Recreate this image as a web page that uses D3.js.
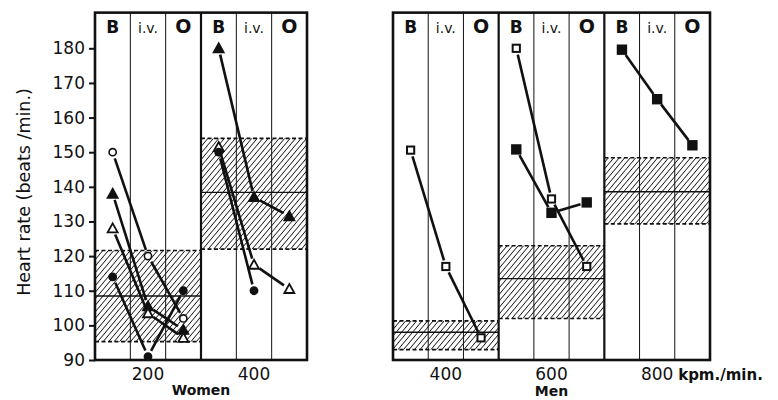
<!DOCTYPE html>
<html>
<head>
<meta charset="utf-8">
<script src="https://cdn.jsdelivr.net/npm/d3@7"></script>
<style>
  body { margin: 0; background: #fff; }
  text { font-family: "DejaVu Sans", sans-serif; fill: #111; }
</style>
</head>
<body>
<svg id="chart" width="778" height="400"></svg>
<script>
// workloads (kpm/min) of each group
var womenLoads = [200, 400];
var menLoads = [400, 600, 800];
var columnNames = ["B", "i.v.", "O"];
var yTicks = [90, 100, 110, 120, 130, 140, 150, 160, 170, 180];

// shaded bands: mean, lower, upper (heart rate at the same load without drug)
var womenBands = [[108.5, 95.3, 121.6], [138.4, 122, 154]];
var menBands = [[98, 93, 101.3], [113.5, 102, 123], [138.6, 129.3, 148.4]];

// individual subjects: load, marker, values for B, i.v., O (null = missing)
var womenSeries = [
  [200, "openCircle", [150, 120, 102]],
  [200, "filledTriangle", [138, 105.5, 98.7]],
  [200, "openTriangle", [128, 103.5, 96.4]],
  [200, "filledCircle", [114, 91, 110]],
  [400, "filledTriangle", [180, 137, 131.5]],
  [400, "openTriangle", [151.5, 117.5, 110.5]],
  [400, "filledCircle", [150, 110, null]]
];
var menSeries = [
  [400, "openSquare", [150.6, 117, 96.4]],
  [600, "openSquare", [180, 136.5, 117]],
  [600, "filledSquare", [150.8, 132.5, 135.5]],
  [800, "filledSquare", [179.6, 165.3, 152]]
];

var svg = d3.select("#chart");

var y = d3.scaleLinear().domain([90, 180]).range([360, 48.3]);
var yTop = y(190.3);

var xWomen = d3.scaleLinear().domain([100, 500]).range([95, 307]);
var xMen = d3.scaleLinear().domain([300, 900]).range([393, 710]);

// diagonal hatching
var pat = svg.append("defs").append("pattern")
    .attr("id", "hatch")
    .attr("patternUnits", "userSpaceOnUse")
    .attr("width", 4.2).attr("height", 4.2)
    .attr("patternTransform", "rotate(40)");
pat.append("line")
    .attr("x1", 0).attr("y1", 0).attr("x2", 0).attr("y2", 4.2)
    .style("stroke", "#111").style("stroke-width", 1.6);

// draw the symbol for one subject
function drawMarker(g, type, cx, cy){
    if (type == "openCircle" || type == "filledCircle"){
        g.append("circle").attr("cx", cx).attr("cy", cy).attr("r", 3.6)
            .style("fill", type == "openCircle" ? "#fff" : "#111")
            .style("stroke", "#111").style("stroke-width", 1.6);
    }
    else if (type == "openTriangle" || type == "filledTriangle"){
        var s = 5;
        g.append("path")
            .attr("d", "M" + cx + "," + (cy - s) + "L" + (cx + s) + "," + (cy + s * 0.8) + "L" + (cx - s) + "," + (cy + s * 0.8) + "Z")
            .style("fill", type == "openTriangle" ? "#fff" : "#111")
            .style("stroke", "#111").style("stroke-width", 1.8);
    }
    else {
        var h = type == "openSquare" ? 3.6 : 4.2;
        g.append("rect").attr("x", cx - h).attr("y", cy - h)
            .attr("width", 2 * h).attr("height", 2 * h)
            .style("fill", type == "openSquare" ? "#fff" : "#111")
            .style("stroke", "#111").style("stroke-width", 2);
    }
}

function drawPanel(x, loads, bands, series, lo, hi){
    var g = svg.append("g");
    var colW = (x(hi) - x(lo)) / (loads.length * 3);

    // bands
    loads.forEach(function(load, i){
        var x0 = x(load - 100), x1 = x(load + 100);
        var b = bands[i];
        g.append("rect").attr("x", x0).attr("y", y(b[2]))
            .attr("width", x1 - x0).attr("height", y(b[1]) - y(b[2]))
            .style("fill", "url(#hatch)");
        [b[1], b[2]].forEach(function(v){
            g.append("line").attr("x1", x0).attr("x2", x1).attr("y1", y(v)).attr("y2", y(v))
                .style("stroke", "#111").style("stroke-width", 1.6).style("stroke-dasharray", "4,2.5");
        });
        g.append("line").attr("x1", x0).attr("x2", x1).attr("y1", y(b[0])).attr("y2", y(b[0]))
            .style("stroke", "#111").style("stroke-width", 1.4);
    });

    // column lines
    for (var c = 1; c < loads.length * 3; c++){
        var xc = x(lo) + c * colW;
        g.append("line").attr("x1", xc).attr("x2", xc).attr("y1", yTop).attr("y2", 360)
            .style("stroke", "#111").style("stroke-width", c % 3 == 0 ? 2.2 : 1);
    }

    // frame
    g.append("rect").attr("x", x(lo)).attr("y", yTop)
        .attr("width", x(hi) - x(lo)).attr("height", 360 - yTop)
        .style("fill", "none").style("stroke", "#111").style("stroke-width", 2.6);

    // column headers
    loads.forEach(function(load){
        columnNames.forEach(function(name, j){
            var cx = x(load - 100) + (j + 0.5) * colW;
            g.append("text").attr("x", cx).attr("y", 33)
                .attr("text-anchor", "middle")
                .style("font-size", name == "i.v." ? "14px" : (name == "O" ? "19px" : "17px"))
                .style("font-weight", name == "i.v." ? "normal" : "bold")
                .text(name);
        });
    });

    // subjects
    series.forEach(function(s){
        var pts = [];
        s[2].forEach(function(v, j){
            if (v != null) pts.push([x(s[0] - 100) + (j + 0.5) * colW, y(v)]);
        });
        for (var k = 0; k < pts.length - 1; k++){
            var a = pts[k], b = pts[k + 1];
            var dx = b[0] - a[0], dy = b[1] - a[1];
            var len = Math.sqrt(dx * dx + dy * dy), gap = 6.5;
            g.append("line")
                .attr("x1", a[0] + dx / len * gap).attr("y1", a[1] + dy / len * gap)
                .attr("x2", b[0] - dx / len * gap).attr("y2", b[1] - dy / len * gap)
                .style("stroke", "#111").style("stroke-width", 2.6);
        }
        pts.forEach(function(p){ drawMarker(g, s[1], p[0], p[1]); });
    });

    // workload labels
    loads.forEach(function(load){
        g.append("text").attr("x", x(load)).attr("y", 380)
            .attr("text-anchor", "middle")
            .style("font-size", "17px")
            .text(load);
    });
    return g;
}

drawPanel(xWomen, womenLoads, womenBands, womenSeries, 100, 500);
drawPanel(xMen, menLoads, menBands, menSeries, 300, 900);

// y axis
var yAxis = d3.axisLeft(y).tickValues(yTicks).tickSize(6).tickPadding(4);
var ya = svg.append("g").attr("transform", "translate(95,0)").call(yAxis);
ya.select(".domain").remove();
ya.selectAll(".tick line").style("stroke", "#111").style("stroke-width", 2);
ya.selectAll(".tick text").style("font-size", "17px").style("font-family", "DejaVu Sans, sans-serif").style("fill", "#111");

svg.append("text")
    .attr("transform", "translate(30,192) rotate(-90)")
    .attr("text-anchor", "middle")
    .style("font-size", "17.5px")
    .text("Heart rate (beats /min.)");

svg.append("text").attr("x", xWomen(300)).attr("y", 395)
    .attr("text-anchor", "middle").style("font-size", "14px").style("font-weight", "bold")
    .text("Women");
svg.append("text").attr("x", xMen(600)).attr("y", 396)
    .attr("text-anchor", "middle").style("font-size", "14px").style("font-weight", "bold")
    .text("Men");
svg.append("text").attr("x", xMen(800) + 21).attr("y", 380)
    .style("font-size", "15px").style("font-weight", "bold")
    .text("kpm./min.");
</script>
</body>
</html>
